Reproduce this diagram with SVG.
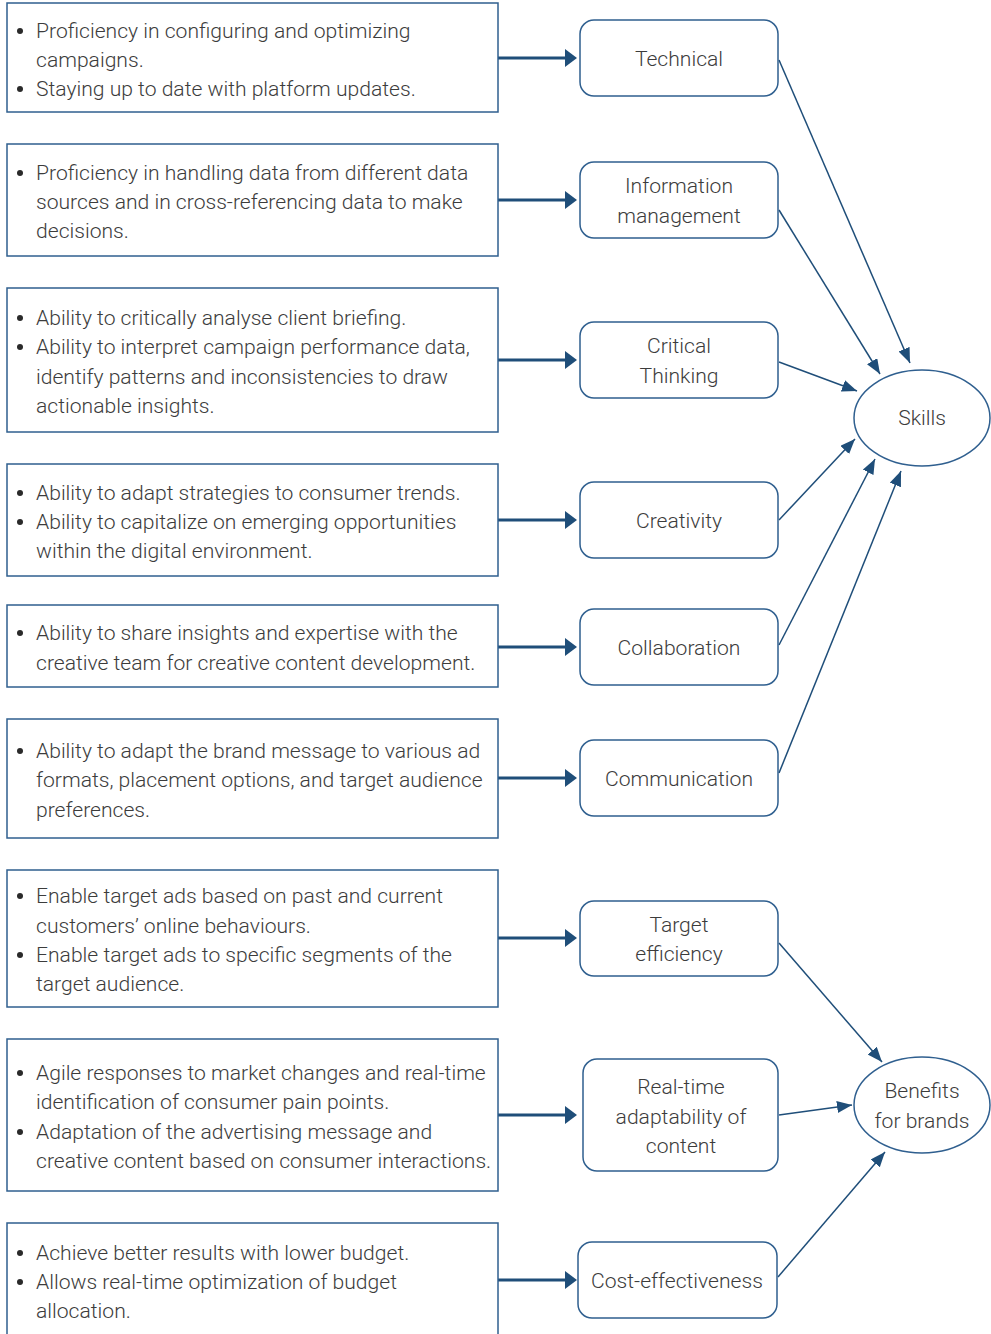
<svg xmlns="http://www.w3.org/2000/svg" width="991" height="1334" viewBox="0 0 991 1334">
<style>
.box{fill:#fff;stroke:#2f5f8f;stroke-width:1.5}
.rbox{fill:#fff;stroke:#2f5f8f;stroke-width:1.5}
.ell{fill:#fff;stroke:#2f5f8f;stroke-width:1.5}
.t{font-family:Roboto,"Liberation Sans",sans-serif;font-weight:300;font-size:21.1px;fill:#3c3c3c}
.c{text-anchor:middle}
.h{stroke:#1f4e79;stroke-width:3;fill:none}
.d{stroke:#1f4e79;stroke-width:1.5;fill:none}
.dot{fill:#2a2a2a}
</style>
<defs>
<marker id="ah" markerUnits="userSpaceOnUse" markerWidth="14" markerHeight="20" refX="0" refY="9" orient="auto"><path d="M0,0 L12,9 L0,18 z" fill="#1f4e79"/></marker>
<marker id="ad" markerUnits="userSpaceOnUse" markerWidth="16" markerHeight="14" refX="15" refY="6" orient="auto"><path d="M0,0 L15,6 L0,12 z" fill="#1f4e79"/></marker>
</defs>
<rect width="991" height="1334" fill="#fff"/>

<g id="connectors">
<line class="h" x1="498" y1="58" x2="565" y2="58" marker-end="url(#ah)"/>
<line class="h" x1="498" y1="200" x2="565" y2="200" marker-end="url(#ah)"/>
<line class="h" x1="498" y1="360" x2="565" y2="360" marker-end="url(#ah)"/>
<line class="h" x1="498" y1="520" x2="565" y2="520" marker-end="url(#ah)"/>
<line class="h" x1="498" y1="647" x2="565" y2="647" marker-end="url(#ah)"/>
<line class="h" x1="498" y1="778" x2="565" y2="778" marker-end="url(#ah)"/>
<line class="h" x1="498" y1="938" x2="565" y2="938" marker-end="url(#ah)"/>
<line class="h" x1="498" y1="1115" x2="565" y2="1115" marker-end="url(#ah)"/>
<line class="h" x1="498" y1="1280" x2="565" y2="1280" marker-end="url(#ah)"/>
<line class="d" x1="779" y1="60" x2="910" y2="363" marker-end="url(#ad)"/>
<line class="d" x1="779" y1="210" x2="880" y2="374" marker-end="url(#ad)"/>
<line class="d" x1="779" y1="362" x2="857" y2="391" marker-end="url(#ad)"/>
<line class="d" x1="779" y1="520" x2="855" y2="439" marker-end="url(#ad)"/>
<line class="d" x1="779" y1="645" x2="875" y2="459" marker-end="url(#ad)"/>
<line class="d" x1="779" y1="773" x2="901" y2="471" marker-end="url(#ad)"/>
<line class="d" x1="779" y1="943" x2="882" y2="1062" marker-end="url(#ad)"/>
<line class="d" x1="779" y1="1115" x2="852" y2="1105" marker-end="url(#ad)"/>
<line class="d" x1="778" y1="1277" x2="885" y2="1152" marker-end="url(#ad)"/>
</g>

<g id="box1">
<rect class="box" x="7" y="3" width="491" height="109"/>
<circle class="dot" cx="20" cy="31" r="3"/><circle class="dot" cx="20" cy="89" r="3"/>
<text class="t" x="36" y="38">Proficiency in configuring and optimizing</text>
<text class="t" x="36" y="67">campaigns.</text>
<text class="t" x="36" y="96">Staying up to date with platform updates.</text>
</g>
<g id="box2">
<rect class="box" x="7" y="144" width="491" height="112"/>
<circle class="dot" cx="20" cy="173" r="3"/>
<text class="t" x="36" y="180">Proficiency in handling data from different data</text>
<text class="t" x="36" y="209">sources and in cross-referencing data to make</text>
<text class="t" x="36" y="238">decisions.</text>
</g>
<g id="box3">
<rect class="box" x="7" y="288" width="491" height="144"/>
<circle class="dot" cx="20" cy="318" r="3"/><circle class="dot" cx="20" cy="347" r="3"/>
<text class="t" x="36" y="325">Ability to critically analyse client briefing.</text>
<text class="t" x="36" y="354">Ability to interpret campaign performance data,</text>
<text class="t" x="36" y="384">identify patterns and inconsistencies to draw</text>
<text class="t" x="36" y="413">actionable insights.</text>
</g>
<g id="box4">
<rect class="box" x="7" y="464" width="491" height="112"/>
<circle class="dot" cx="20" cy="493" r="3"/><circle class="dot" cx="20" cy="522" r="3"/>
<text class="t" x="36" y="500">Ability to adapt strategies to consumer trends.</text>
<text class="t" x="36" y="529">Ability to capitalize on emerging opportunities</text>
<text class="t" x="36" y="558">within the digital environment.</text>
</g>
<g id="box5">
<rect class="box" x="7" y="605" width="491" height="82"/>
<circle class="dot" cx="20" cy="633" r="3"/>
<text class="t" x="36" y="640">Ability to share insights and expertise with the</text>
<text class="t" x="36" y="670">creative team for creative content development.</text>
</g>
<g id="box6">
<rect class="box" x="7" y="719" width="491" height="119"/>
<circle class="dot" cx="20" cy="751" r="3"/>
<text class="t" x="36" y="758">Ability to adapt the brand message to various ad</text>
<text class="t" x="36" y="787">formats, placement options, and target audience</text>
<text class="t" x="36" y="817">preferences.</text>
</g>
<g id="box7">
<rect class="box" x="7" y="870" width="491" height="137"/>
<circle class="dot" cx="20" cy="896" r="3"/><circle class="dot" cx="20" cy="955" r="3"/>
<text class="t" x="36" y="903">Enable target ads based on past and current</text>
<text class="t" x="36" y="933">customers’ online behaviours.</text>
<text class="t" x="36" y="962">Enable target ads to specific segments of the</text>
<text class="t" x="36" y="991">target audience.</text>
</g>
<g id="box8">
<rect class="box" x="7" y="1039" width="491" height="152"/>
<circle class="dot" cx="20" cy="1073" r="3"/><circle class="dot" cx="20" cy="1132" r="3"/>
<text class="t" x="36" y="1080">Agile responses to market changes and real-time</text>
<text class="t" x="36" y="1109">identification of consumer pain points.</text>
<text class="t" x="36" y="1139">Adaptation of the advertising message and</text>
<text class="t" x="36" y="1168">creative content based on consumer interactions.</text>
</g>
<g id="box9">
<rect class="box" x="7" y="1223" width="491" height="130"/>
<circle class="dot" cx="20" cy="1253" r="3"/><circle class="dot" cx="20" cy="1282" r="3"/>
<text class="t" x="36" y="1260">Achieve better results with lower budget.</text>
<text class="t" x="36" y="1289">Allows real-time optimization of budget</text>
<text class="t" x="36" y="1318">allocation.</text>
</g>

<g id="technical"><rect class="rbox" x="580" y="20" width="198" height="76" rx="14"/><text class="t c" x="679" y="66">Technical</text></g>
<g id="information"><rect class="rbox" x="580" y="162" width="198" height="76" rx="14"/><text class="t c" x="679" y="193">Information</text><text class="t c" x="679" y="223">management</text></g>
<g id="critical"><rect class="rbox" x="580" y="322" width="198" height="76" rx="14"/><text class="t c" x="679" y="353">Critical</text><text class="t c" x="679" y="383">Thinking</text></g>
<g id="creativity"><rect class="rbox" x="580" y="482" width="198" height="76" rx="14"/><text class="t c" x="679" y="528">Creativity</text></g>
<g id="collaboration"><rect class="rbox" x="580" y="609" width="198" height="76" rx="14"/><text class="t c" x="679" y="655">Collaboration</text></g>
<g id="communication"><rect class="rbox" x="580" y="740" width="198" height="76" rx="14"/><text class="t c" x="679" y="786">Communication</text></g>
<g id="target"><rect class="rbox" x="580" y="901" width="198" height="75" rx="14"/><text class="t c" x="679" y="932">Target</text><text class="t c" x="679" y="961">efficiency</text></g>
<g id="realtime"><rect class="rbox" x="583" y="1059" width="195" height="112" rx="14"/><text class="t c" x="681" y="1094">Real-time</text><text class="t c" x="681" y="1124">adaptability of</text><text class="t c" x="681" y="1153">content</text></g>
<g id="cost"><rect class="rbox" x="578" y="1242" width="199" height="76" rx="14"/><text class="t c" x="677" y="1288">Cost-effectiveness</text></g>

<g id="skills"><ellipse class="ell" cx="922" cy="418" rx="68" ry="48"/><text class="t c" x="922" y="425">Skills</text></g>
<g id="benefits"><ellipse class="ell" cx="922" cy="1105" rx="68" ry="48"/><text class="t c" x="922" y="1098">Benefits</text><text class="t c" x="922" y="1128">for brands</text></g>
</svg>
